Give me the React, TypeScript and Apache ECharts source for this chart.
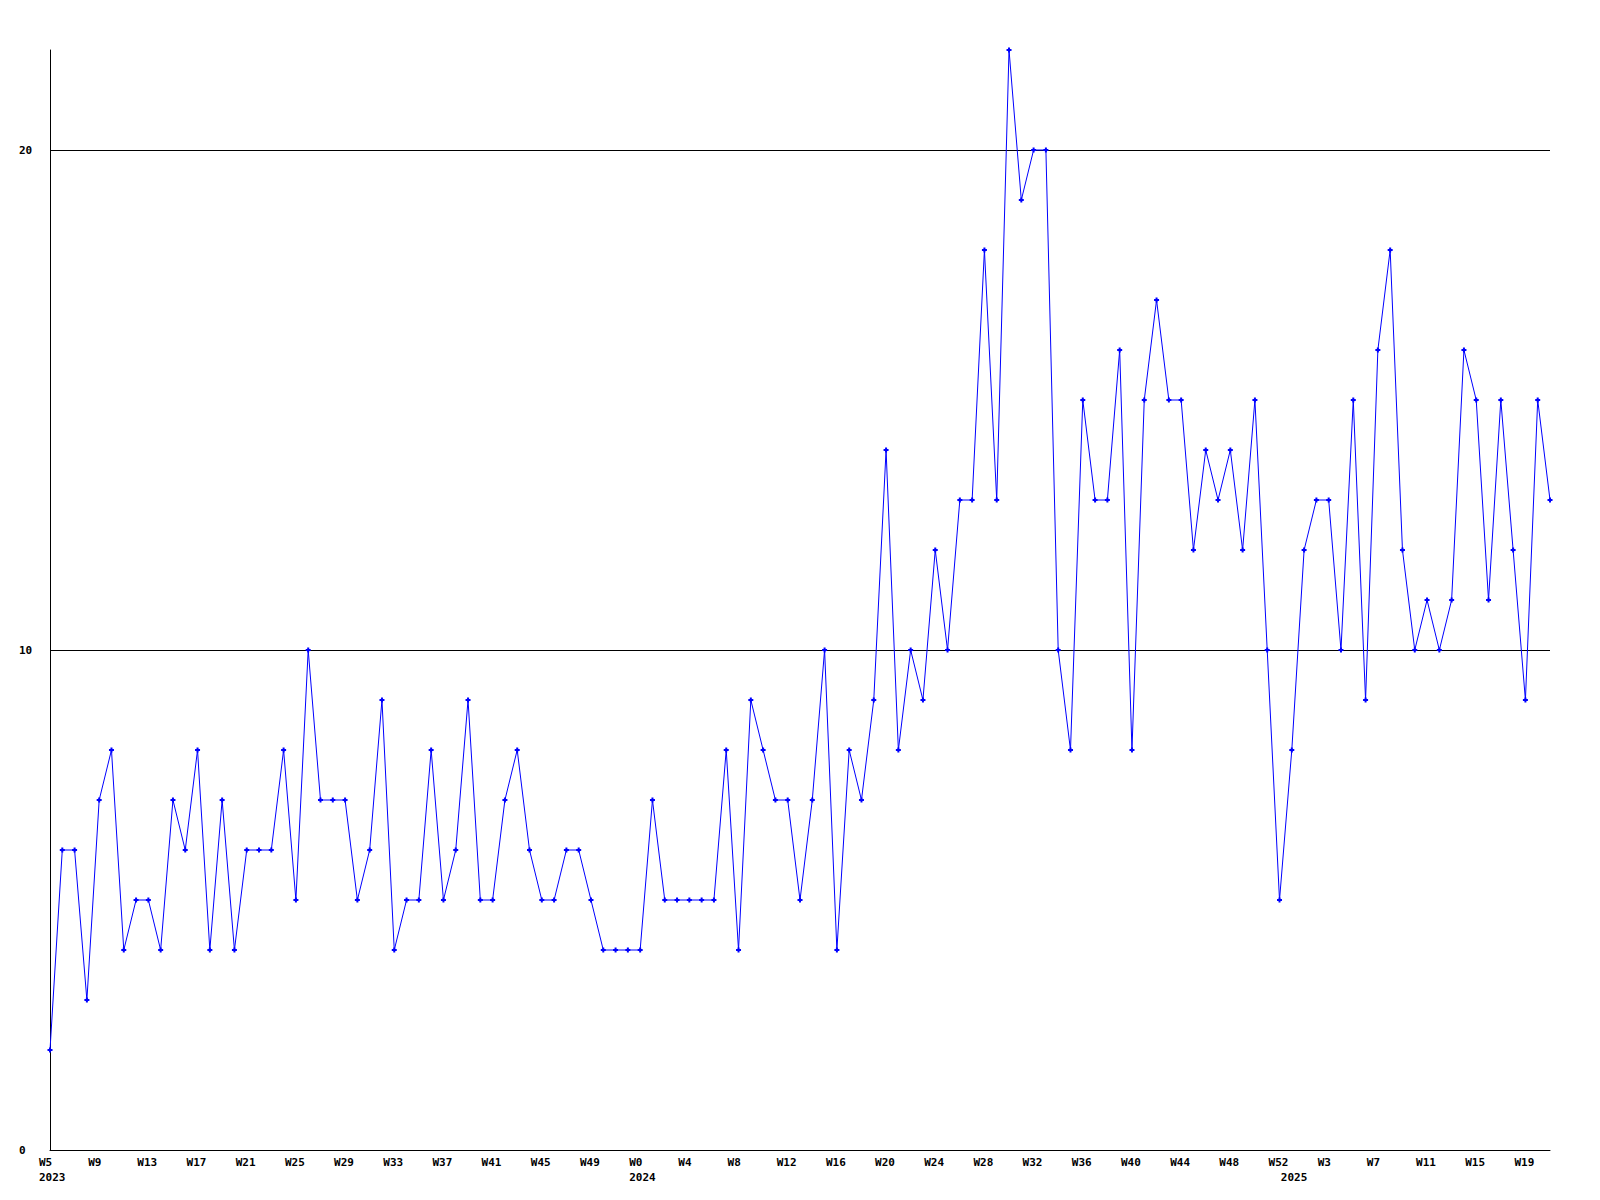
import React, { useEffect, useRef } from "react";
import * as echarts from "echarts";

// Week ranges per year (%U numbering as shown on the axis)
const years = [2023, 2024, 2025];
const firstWeek = [5, 0, 0];
const lastWeek = [52, 52, 21];

const values = [
  2, 6, 6, 3, 7, 8, 4, 5, 5, 4, 7, 6, 8, 4, 7, 4, 6, 6, 6, 8, 5, 10, 7, 7, 7, 5, 6, 9, 4, 5, 5, 8, 5, 6, 9, 5, 5, 7, 8, 6, 5, 5, 6, 6, 5, 4, 4, 4,
  4, 7, 5, 5, 5, 5, 5, 8, 4, 9, 8, 7, 7, 5, 7, 10, 4, 8, 7, 9, 14, 8, 10, 9, 12, 10, 13, 13, 18, 13, 22, 19, 20, 20, 10, 8, 15, 13, 13, 16, 8, 15, 17, 15, 15, 12, 14, 13, 14, 12, 15, 10, 5,
  8, 12, 13, 13, 10, 15, 9, 16, 18, 12, 10, 11, 10, 11, 16, 15, 11, 15, 12, 9, 15, 13,
];

const yTicks = [10, 20];
const yMax = 22;

const categories: string[] = [];
const yearStart: Record<number, number> = {};
years.forEach((y, i) => {
  yearStart[categories.length] = y;
  for (let w = firstWeek[i]; w <= lastWeek[i]; w++) categories.push("W" + w);
});

export default function App() {
  const ref = useRef<HTMLDivElement>(null);
  useEffect(() => {
    const chart = echarts.init(ref.current!, null, { renderer: "svg" });
    const font = {
      fontFamily: "DejaVu Sans Mono",
      fontWeight: "bold" as const,
      fontSize: 11,
      color: "#000",
    };
    chart.setOption({
      animation: false,
      backgroundColor: "#fff",
      grid: { left: 50, right: 50, top: 50, bottom: 50 },
      xAxis: {
        type: "category",
        data: categories,
        boundaryGap: false,
        axisLine: { show: true, lineStyle: { color: "#000", width: 1 } },
        axisTick: { show: false },
        splitLine: { show: false },
        axisLabel: {
          ...font,
          align: "left",
          padding: [0, 0, 0, -11],
          margin: 5,
          lineHeight: 15,
          interval: (idx: number) => idx % 4 === 0 || yearStart[idx] !== undefined,
          formatter: (val: string, idx: number) => {
            const yr = yearStart[idx];
            const top = idx % 4 === 0 ? val : "";
            return yr !== undefined ? top + "\n" + yr : top;
          },
        },
      },
      yAxis: {
        type: "value",
        min: 0,
        max: yMax,
        interval: 10,
        axisLine: { show: true, lineStyle: { color: "#000", width: 1 } },
        axisTick: { show: false },
        splitLine: { show: false },
        axisLabel: {
          ...font,
          align: "left",
          margin: 31,
          formatter: (v: number) => (v === yMax ? "" : String(v)),
        },
      },
      series: [
        {
          type: "line",
          data: values,
          symbol: "path://M1.5 0H3.5V1.5H5V3.5H3.5V5H1.5V3.5H0V1.5H1.5Z",
          symbolSize: 5,
          showAllSymbol: true,
          lineStyle: { color: "#0000ff", width: 1 },
          itemStyle: { color: "#0000ff" },
          z: 3,
          markLine: {
            silent: true,
            symbol: "none",
            label: { show: false },
            lineStyle: { color: "#000", width: 1, type: "solid" },
            data: yTicks.map((t) => ({ yAxis: t })),
            z: 1,
          },
        },
      ],
    });
    return () => chart.dispose();
  }, []);
  return <div ref={ref} style={{ width: 1600, height: 1200, margin: -8 }} />;
}
